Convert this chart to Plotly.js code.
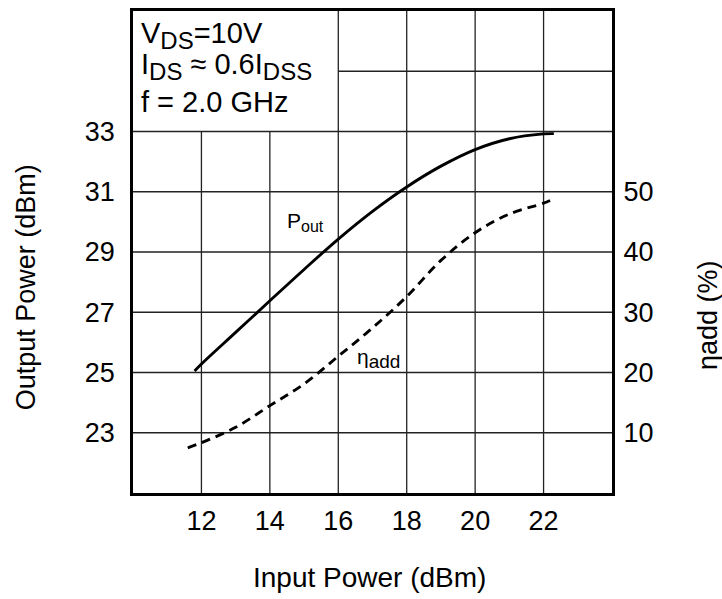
<!DOCTYPE html>
<html>
<head>
<meta charset="utf-8">
<script src="https://cdn.plot.ly/plotly-3.0.1.min.js"></script>
<style>html,body{margin:0;padding:0;background:#fff;}</style>
</head>
<body>
<div id="chart" style="width:722px;height:599px;"></div>
<script>
// Output power curve (left axis, dBm)
var poutX = [11.8, 12, 13, 14, 15, 16, 17, 18, 19, 20, 21, 22, 22.3];
var poutY = [25.05, 25.28, 26.33, 27.38, 28.42, 29.43, 30.35, 31.16, 31.85, 32.40, 32.76, 32.92, 32.93];
// Power-added efficiency curve (right axis, %)
var etaX = [11.6, 12, 13, 14, 15, 16, 17, 18, 19, 20, 21, 22, 22.25];
var etaY = [7.5, 8.35, 10.9, 14.5, 18.1, 22.7, 27.4, 32.6, 38.6, 43.2, 46.3, 48.1, 48.7];
// Tick values / labels
var xTicks = [12, 14, 16, 18, 20, 22];
var yLeftTicks = [23, 25, 27, 29, 31, 33];
var yRightTicks = [10, 20, 30, 40, 50];
// Grid lines (short ones stop under the condition box)
var xGridShort = [12, 14];
var xGridFull = [16, 18, 20, 22];
var yGridFull = [23, 25, 27, 29, 31, 33];
var yGridPartial = [35];
var SUB = function (s, px) { return "<sub><span style=\"font-size:" + px + "px\">" + s + "</span></sub>"; };
var condLines = ["V" + SUB("DS", 24) + "=10V", "I" + SUB("DS", 24) + " \u2248 0.6I" + SUB("DSS", 24), "f = 2.0 GHz"];

var xRange = [10, 24], yRange = [21, 37], y2Range = [0, 80];
var FONT = "Liberation Sans, Arial, Helvetica, sans-serif";
var gridStyle = {color: "#222", width: 1.3};

var shapes = [];
xGridShort.forEach(function (v) {
  shapes.push({type: "line", xref: "x", yref: "y", x0: v, x1: v, y0: yRange[0], y1: 33, line: gridStyle, layer: "below"});
});
xGridFull.forEach(function (v) {
  shapes.push({type: "line", xref: "x", yref: "y", x0: v, x1: v, y0: yRange[0], y1: yRange[1], line: gridStyle, layer: "below"});
});
yGridFull.forEach(function (v) {
  shapes.push({type: "line", xref: "x", yref: "y", x0: xRange[0], x1: xRange[1], y0: v, y1: v, line: gridStyle, layer: "below"});
});
yGridPartial.forEach(function (v) {
  shapes.push({type: "line", xref: "x", yref: "y", x0: 16, x1: xRange[1], y0: v, y1: v, line: gridStyle, layer: "below"});
});

var traces = [
  {x: poutX, y: poutY, type: "scatter", mode: "lines", line: {color: "#000", width: 2.9, shape: "spline"}, xaxis: "x", yaxis: "y", hoverinfo: "skip"},
  {x: etaX, y: etaY, type: "scatter", mode: "lines", line: {color: "#000", width: 2.9, dash: "9px,6px", shape: "spline"}, xaxis: "x", yaxis: "y2", hoverinfo: "skip"}
];

var condY = [0.950, 0.884, 0.812];
var annotations = condLines.map(function (t, i) {
  return {text: t, xref: "paper", yref: "paper", x: 0.012, y: condY[i], xanchor: "left", yanchor: "middle", showarrow: false, font: {family: FONT, size: 29, color: "#000"}};
});
annotations.push({text: "P" + SUB("out", 16), xref: "x", yref: "y", x: 14.45, y: 30.0, xanchor: "left", yanchor: "middle", showarrow: false, font: {family: FONT, size: 21, color: "#000"}});
annotations.push({text: "\u03b7" + SUB("add", 19), xref: "x", yref: "y", x: 16.5, y: 25.45, xanchor: "left", yanchor: "middle", showarrow: false, font: {family: FONT, size: 21, color: "#000"}});
annotations.push({text: "Input Power (dBm)", xref: "paper", yref: "paper", x: 0.494, y: -0.175, xanchor: "center", yanchor: "middle", showarrow: false, font: {family: FONT, size: 28, color: "#000"}});
annotations.push({text: "Output Power (dBm)", xref: "paper", yref: "paper", x: -0.223, y: 0.427, xanchor: "center", yanchor: "middle", textangle: -90, showarrow: false, font: {family: FONT, size: 27, color: "#000"}});
annotations.push({text: "\u03b7add (%)", xref: "paper", yref: "paper", x: 1.20, y: 0.369, xanchor: "center", yanchor: "middle", textangle: -90, showarrow: false, font: {family: FONT, size: 27, color: "#000"}});

var layout = {
  width: 722, height: 599,
  margin: {l: 133, r: 110, t: 11, b: 106, pad: 0},
  paper_bgcolor: "#fff", plot_bgcolor: "#fff",
  showlegend: false,
  font: {family: FONT, color: "#000"},
  xaxis: {range: xRange, tickvals: xTicks, ticktext: xTicks.map(String), showgrid: false, zeroline: false,
    showline: true, mirror: true, linecolor: "#000", linewidth: 2.8,
    ticks: "outside", ticklen: 2, tickcolor: "rgba(0,0,0,0)", tickfont: {family: FONT, size: 27, color: "#000"}},
  yaxis: {range: yRange, tickvals: yLeftTicks, ticktext: yLeftTicks.map(String), showgrid: false, zeroline: false,
    showline: true, mirror: true, linecolor: "#000", linewidth: 2.8,
    ticks: "outside", ticklen: 10, tickcolor: "rgba(0,0,0,0)", tickfont: {family: FONT, size: 27, color: "#000"}},
  yaxis2: {range: y2Range, overlaying: "y", side: "right", tickvals: yRightTicks, ticktext: yRightTicks.map(String),
    showgrid: false, zeroline: false, showline: false,
    ticks: "outside", ticklen: 5, tickcolor: "rgba(0,0,0,0)", tickfont: {family: FONT, size: 27, color: "#000"}},
  shapes: shapes,
  annotations: annotations
};

Plotly.newPlot("chart", traces, layout, {staticPlot: true, displayModeBar: false});
</script>
</body>
</html>
